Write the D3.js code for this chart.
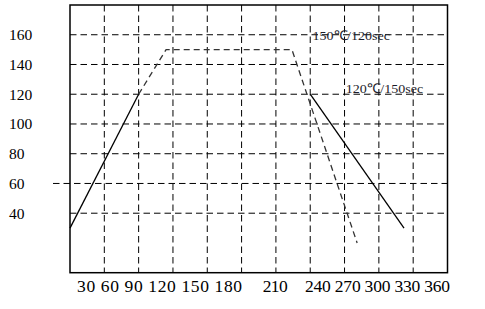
<!DOCTYPE html>
<html><head><meta charset="utf-8">
<script src="https://cdn.jsdelivr.net/npm/d3@7"></script>
<style>body{margin:0;background:#fff}svg{display:block}</style>
</head><body>
<svg id="c" width="485" height="309"></svg>
<script>
// ---- data ----
const yTicks = [40, 60, 80, 100, 120, 140, 160];
const xGrid = [30, 60, 90, 120, 150, 180, 210, 240, 270, 300];
const hGrid = [40, 60, 80, 100, 120, 140, 160];
const xLabelGroups = [["30","60","90","120","150","180"], ["210"], ["240","270","300","330","360"]];
const rampUp = [[0, 30], [60, 120]];
const profile150 = [[60, 120], [84, 150], [194, 150], [251, 20]];
const profile120 = [[210, 120], [292, 30]];
const labels = [{text: "150\u2103/120sec", x: 212, y: 156.3}, {text: "120\u2103/150sec", x: 241, y: 120.9}];

// ---- layout ----
const L = 70, R = 447.5, T = 5, B = 272.7;
const x = d3.scaleLinear().domain([0, 330]).range([L, R]);
const y = d3.scaleLinear().domain([0, 180]).range([B, T]);
const svg = d3.select("#c");
const serif = "'Liberation Serif','Times New Roman',serif";

// gridlines
svg.append("g").selectAll("line").data(xGrid).join("line")
  .attr("x1", d => x(d)).attr("x2", d => x(d)).attr("y1", T).attr("y2", B)
  .attr("stroke", "#000").attr("stroke-width", 1).attr("stroke-dasharray", "6.5,4");
svg.append("g").selectAll("line").data(hGrid).join("line")
  .attr("x1", d => d === 60 ? 53 : L).attr("x2", R).attr("y1", d => y(d)).attr("y2", d => y(d))
  .attr("stroke", "#000").attr("stroke-width", 1).attr("stroke-dasharray", "6.5,4");

// frame
svg.append("rect").attr("x", L).attr("y", T).attr("width", R - L).attr("height", B - T)
  .attr("fill", "none").attr("stroke", "#000").attr("stroke-width", 1.5);

const line = d3.line().x(d => x(d[0])).y(d => y(d[1]));
svg.append("path").attr("d", line(rampUp)).attr("fill", "none").attr("stroke", "#000").attr("stroke-width", 1.3);
svg.append("path").attr("d", line(profile150)).attr("fill", "none").attr("stroke", "#333")
  .attr("stroke-width", 1.3).attr("stroke-dasharray", "6,4");
svg.append("path").attr("d", line(profile120)).attr("fill", "none").attr("stroke", "#000").attr("stroke-width", 1.3);

// y labels
svg.append("g").selectAll("text").data(yTicks).join("text")
  .attr("x", 9).attr("y", d => y(d)).attr("dy", "0.35em")
  .attr("font-family", serif).attr("font-size", 15.5).attr("fill", "#000").text(d => d);

// x labels (text rows as in the original)
const groupX = [77, 262.7, 305];
const groupW = [165, 25, 145];
xLabelGroups.forEach((g, i) => {
  svg.append("text").attr("x", groupX[i]).attr("y", 291.5)
    .attr("font-family", serif).attr("font-size", 17.5).attr("fill", "#000")
    .attr("textLength", groupW[i]).attr("lengthAdjust", "spacing")
    .attr("xml:space", "preserve").text(g.join(" "));
});

// annotations
svg.append("g").selectAll("text").data(labels).join("text")
  .attr("x", d => x(d.x)).attr("y", d => y(d.y))
  .attr("font-family", serif).attr("font-size", 13.5).attr("fill", "#1c1c2a")
  .attr("textLength", 77.5).attr("lengthAdjust", "spacingAndGlyphs").text(d => d.text);
</script>
</body></html>
